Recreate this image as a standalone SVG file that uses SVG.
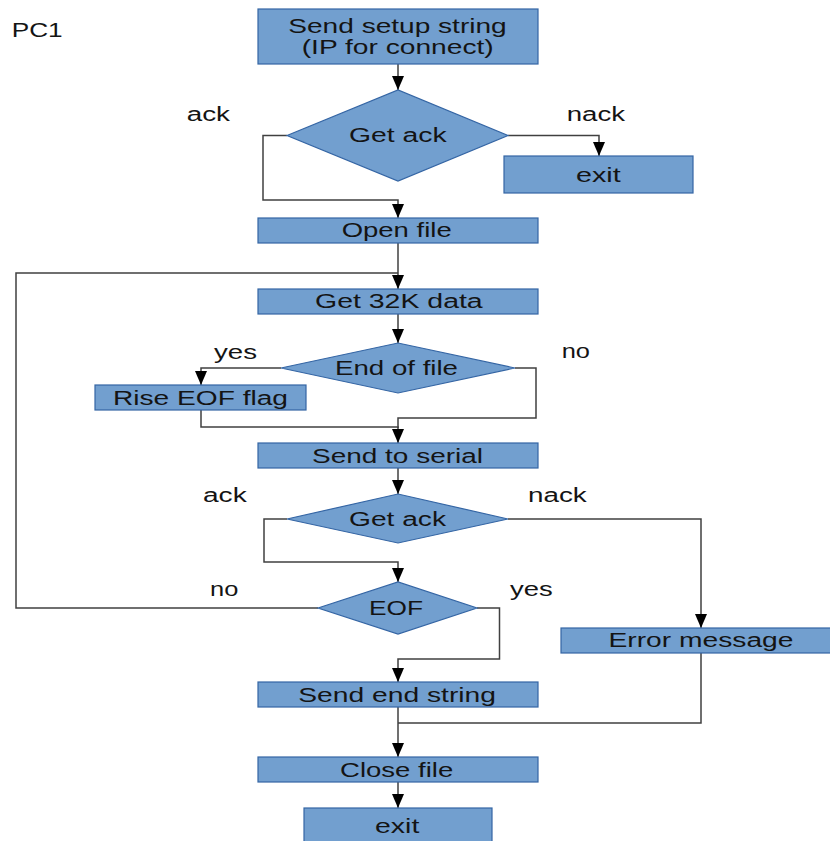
<svg xmlns="http://www.w3.org/2000/svg" width="830" height="841" viewBox="0 0 830 841">
<style>
.box{fill:#729fcf;stroke:#3465a4;stroke-width:1.2}
.t{font-family:"Liberation Sans",Arial,sans-serif;font-size:20px;fill:#141414}
.c{fill:none;stroke:#404040;stroke-width:1.5}
.a{marker-end:url(#arr)}
</style>
<defs>
<marker id="arr" viewBox="0 0 14 12" refX="14" refY="6" markerWidth="14" markerHeight="12" markerUnits="userSpaceOnUse" orient="auto">
<path d="M0,0 L14,6 L0,12 z" fill="#000"/>
</marker>
</defs>
<rect width="830" height="841" fill="#fff"/>
<g id="connectors">
<path class="c a" d="M398,64 V90"/>
<path class="c a" d="M287,135.5 H263 V200 H398 V218"/>
<path class="c a" d="M508,135.5 H599 V156"/>
<path class="c a" d="M398,243 V289"/>
<path class="c" d="M318,608 H16 V273 H398"/>
<path class="c a" d="M398,314 V343"/>
<path class="c a" d="M281,368 H201 V385"/>
<path class="c a" d="M201,410 V427 H398 V443"/>
<path class="c" d="M515,368 H536 V418 H398 V428"/>
<path class="c a" d="M398,468 V494"/>
<path class="c a" d="M287,519 H264 V562 H398 V582"/>
<path class="c a" d="M508,519 H701 V628"/>
<path class="c a" d="M477,608 H499.5 V659 H398 V682"/>
<path class="c a" d="M398,707 V757"/>
<path class="c" d="M701,653 V723 H398"/>
<path class="c a" d="M398,782 V808"/>
</g>
<g id="label-pc1"><text class="t" x="11.7" y="36.7" textLength="51" lengthAdjust="spacingAndGlyphs">PC1</text></g>
<g id="send-setup">
<rect class="box" x="258" y="9" width="280" height="55"/>
<text class="t" x="288.3" y="32.5" textLength="218.4" lengthAdjust="spacingAndGlyphs">Send setup string</text>
<text class="t" x="301.7" y="54.3" textLength="192" lengthAdjust="spacingAndGlyphs">(IP for connect)</text>
</g>
<g id="get-ack-1">
<polygon class="box" points="287,135.5 398,90 508,135.5 398,181"/>
<text class="t" x="349" y="141.7" textLength="97.7" lengthAdjust="spacingAndGlyphs">Get ack</text>
</g>
<g id="label-ack-1"><text class="t" x="186.7" y="120.7" textLength="43.3" lengthAdjust="spacingAndGlyphs">ack</text></g>
<g id="label-nack-1"><text class="t" x="566.7" y="121" textLength="58.3" lengthAdjust="spacingAndGlyphs">nack</text></g>
<g id="exit-1">
<rect class="box" x="504" y="156" width="189" height="37"/>
<text class="t" x="576" y="181.7" textLength="44.7" lengthAdjust="spacingAndGlyphs">exit</text>
</g>
<g id="open-file">
<rect class="box" x="258" y="218" width="280" height="25"/>
<text class="t" x="341.7" y="237.3" textLength="110" lengthAdjust="spacingAndGlyphs">Open file</text>
</g>
<g id="get-32k">
<rect class="box" x="258" y="289" width="280" height="25"/>
<text class="t" x="315" y="308.3" textLength="167.7" lengthAdjust="spacingAndGlyphs">Get 32K data</text>
</g>
<g id="end-of-file">
<polygon class="box" points="281,368 398,343 515,368 398,393"/>
<text class="t" x="335" y="375" textLength="123" lengthAdjust="spacingAndGlyphs">End of file</text>
</g>
<g id="label-yes-1"><text class="t" x="214" y="359" textLength="43" lengthAdjust="spacingAndGlyphs">yes</text></g>
<g id="label-no-1"><text class="t" x="561.7" y="358.3" textLength="28.3" lengthAdjust="spacingAndGlyphs">no</text></g>
<g id="rise-eof">
<rect class="box" x="95" y="385" width="211" height="25"/>
<text class="t" x="113" y="404.5" textLength="175" lengthAdjust="spacingAndGlyphs">Rise EOF flag</text>
</g>
<g id="send-serial">
<rect class="box" x="258" y="443" width="280" height="25"/>
<text class="t" x="312" y="463" textLength="171" lengthAdjust="spacingAndGlyphs">Send to serial</text>
</g>
<g id="label-ack-2"><text class="t" x="203" y="501.7" textLength="43.7" lengthAdjust="spacingAndGlyphs">ack</text></g>
<g id="label-nack-2"><text class="t" x="528" y="501.7" textLength="58.7" lengthAdjust="spacingAndGlyphs">nack</text></g>
<g id="get-ack-2">
<polygon class="box" points="287,519 398,494 508,519 398,543"/>
<text class="t" x="349" y="526" textLength="97" lengthAdjust="spacingAndGlyphs">Get ack</text>
</g>
<g id="label-no-2"><text class="t" x="210" y="596" textLength="28.3" lengthAdjust="spacingAndGlyphs">no</text></g>
<g id="label-yes-2"><text class="t" x="510" y="596" textLength="42.7" lengthAdjust="spacingAndGlyphs">yes</text></g>
<g id="eof">
<polygon class="box" points="318,608 398,582 477,608 398,634"/>
<text class="t" x="369" y="615" textLength="54" lengthAdjust="spacingAndGlyphs">EOF</text>
</g>
<g id="error-message">
<rect class="box" x="561" y="628" width="272" height="25"/>
<text class="t" x="608.5" y="646.7" textLength="185" lengthAdjust="spacingAndGlyphs">Error message</text>
</g>
<g id="send-end">
<rect class="box" x="258" y="682" width="280" height="25"/>
<text class="t" x="298.3" y="701.7" textLength="197.7" lengthAdjust="spacingAndGlyphs">Send end string</text>
</g>
<g id="close-file">
<rect class="box" x="258" y="757" width="280" height="25"/>
<text class="t" x="340" y="776.7" textLength="113.3" lengthAdjust="spacingAndGlyphs">Close file</text>
</g>
<g id="exit-2">
<rect class="box" x="304" y="808" width="188" height="40"/>
<text class="t" x="375" y="833.3" textLength="44.3" lengthAdjust="spacingAndGlyphs">exit</text>
</g>
</svg>
